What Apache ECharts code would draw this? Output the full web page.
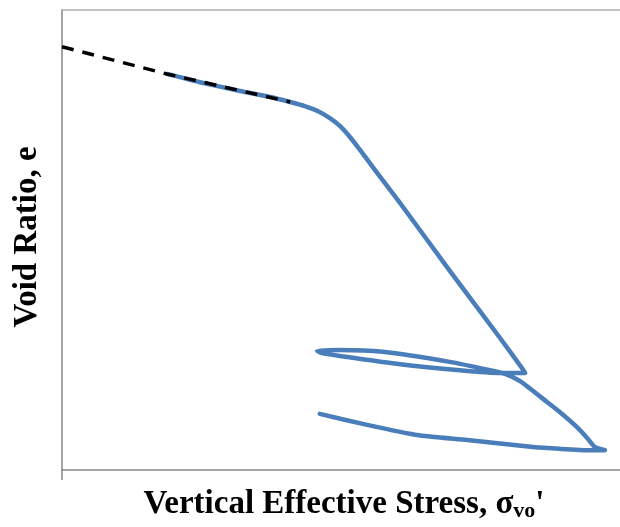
<!DOCTYPE html>
<html>
<head>
<meta charset="utf-8">
<script src="https://cdn.jsdelivr.net/npm/echarts@6/dist/echarts.min.js"></script>
<style>
  html, body { margin: 0; padding: 0; background: #fff; }
  #chart { width: 620px; height: 527px; }
</style>
</head>
<body>
<div id="chart"></div>
<script>
// Consolidation curve: stress (x) vs void ratio (y), arbitrary units
const curveStress = [
  18.8, 24.7, 31.9, 37.3, 40.9, 43.5, 45.9, 48.0, 49.8, 51.6, 53.4, 56.1, 60.6, 69.5, 78.5, 82.4, 83.0,
  78.5, 71.3, 60.6, 49.8, 46.6, 45.7,
  49.8, 57.5, 69.5, 76.7, 79.4, 82.1, 86.9, 89.2, 92.3, 94.3, 95.5, 97.3,
  94.6, 89.2, 84.4, 72.6, 63.6, 54.7, 46.2
];
const curveVoid = [
  86.1, 84.3, 82.4, 81.1, 80.0, 79.1, 78.0, 76.5, 74.8, 72.4, 69.6, 65.2, 58.0, 43.3, 28.7, 22.2, 21.1,
  21.1, 21.7, 23.0, 24.8, 25.4, 25.9,
  26.1, 25.7, 23.5, 21.7, 20.9, 19.3, 14.8, 12.6, 9.3, 6.7, 5.0, 4.3,
  4.3, 4.6, 5.0, 6.5, 7.6, 9.8, 12.2
];
// Extrapolated recompression line
const trendStress = [0, 18.8, 40.9];
const trendVoid = [92.0, 86.1, 80.0];

const xTitle = 'Vertical Effective Stress, ';
const yTitle = 'Void Ratio, e';

const zip = (a, b) => a.map((v, i) => [v, b[i]]);

const chart = echarts.init(document.getElementById('chart'));
chart.setOption({
  animation: false,
  grid: { left: 62, right: 0, top: 10, bottom: 57, containLabel: false },
  xAxis: [{
    type: 'value', min: 0, max: 100,
    axisLine: { show: true, lineStyle: { color: '#868686', width: 1.5 } },
    axisTick: { show: true, customValues: [0], length: 10, lineStyle: { color: '#868686', width: 1.5 } },
    axisLabel: { show: false },
    splitLine: { show: false }
  }, {
    type: 'value', min: 0, max: 100, position: 'top',
    axisLine: { show: true, lineStyle: { color: '#b0b0b0', width: 1.5 } },
    axisTick: { show: false }, axisLabel: { show: false }, splitLine: { show: false }
  }],
  yAxis: {
    type: 'value', min: 0, max: 100,
    axisLine: { show: true, lineStyle: { color: '#868686', width: 1.5 } },
    axisTick: { show: false },
    axisLabel: { show: false },
    splitLine: { show: false }
  },
  series: [{
    type: 'line',
    data: zip(curveStress, curveVoid),
    showSymbol: false,
    smooth: 0.2,
    lineStyle: { color: '#4A7EBB', width: 4.5, cap: 'round', join: 'round' }
  }, {
    type: 'line',
    data: zip(trendStress, trendVoid),
    showSymbol: false,
    lineStyle: { color: '#000', width: 3.5, type: [12, 9] }
  }],
  graphic: [{
    type: 'text',
    x: 27, y: 237,
    rotation: Math.PI / 2,
    style: {
      text: yTitle,
      font: 'bold 33px "Liberation Serif", "Times New Roman", serif',
      fill: '#000',
      align: 'center',
      verticalAlign: 'middle'
    }
  }, {
    type: 'text',
    x: 344, y: 504,
    style: {
      text: xTitle + 'σ{sub|vo}\'',
      font: 'bold 33px "Liberation Serif", "Times New Roman", serif',
      fill: '#000',
      align: 'center',
      verticalAlign: 'middle',
      lineHeight: 36,
      rich: {
        sub: {
          font: 'bold 22px "Liberation Serif", "Times New Roman", serif',
          fill: '#000',
          verticalAlign: 'bottom',
          lineHeight: 22
        }
      }
    }
  }]
});
</script>
</body>
</html>
